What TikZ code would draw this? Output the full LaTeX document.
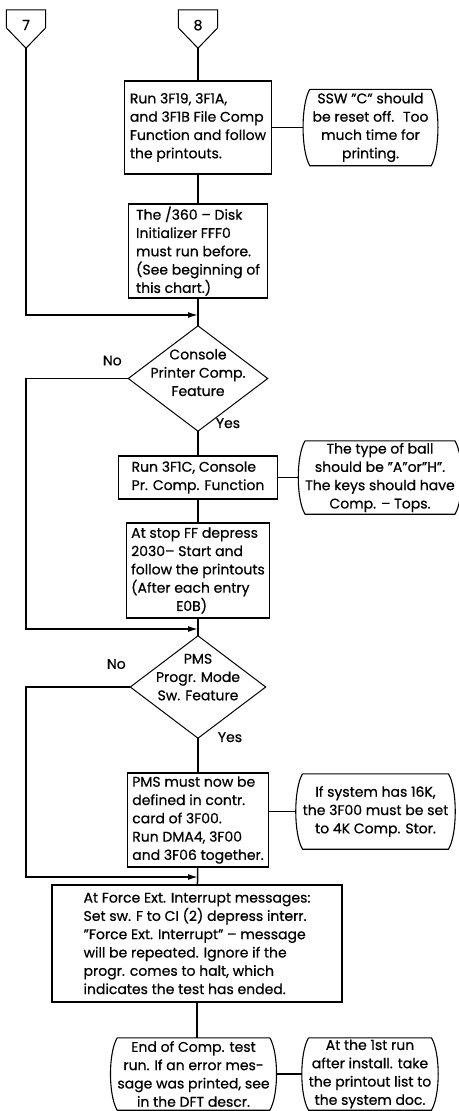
\documentclass[tikz,border=0pt]{standalone}
\usepackage{fontspec}
\setmainfont{Poppins}[FakeBold=0.6]
\usetikzlibrary{arrows.meta}

\begin{document}
\begin{tikzpicture}[x=1pt, y=-1pt, font=\fontsize{14pt}{18.3pt}\selectfont]
    \tikzstyle{process} = [rectangle, draw, line width=1.1pt, align=left, inner xsep=5pt, inner ysep=2pt]
    \tikzstyle{note} = [rectangle, align=center, inner sep=0pt]
    \tikzstyle{decision} = [rectangle, align=center, inner sep=0pt]
    \tikzstyle{offpage} = [rectangle, inner sep=0pt, minimum width=39pt, minimum height=38pt, text depth=8pt]
    \tikzstyle{line} = [line width=1.5pt]
    \tikzstyle{arrow} = [line, -{Latex[length=10pt, width=6pt]}]

    \useasboundingbox (0,0) rectangle (458,1111);

    \node (c7) [offpage] at (26,29) {7};
    \node (c8) [offpage] at (198,29) {8};
    \node (box1) [process, minimum width=142pt, minimum height=93pt] at (198,127.5) {Run 3F19, 3F1A,\\and 3F1B File Comp\\Function and follow\\the printouts.};
    \node (note1) [note, minimum width=121pt, minimum height=76pt] at (370.5,127.5) {SSW "C" should\\be reset off.~ Too\\much time for\\printing.};
    \node (box2) [process, minimum width=139pt, minimum height=94pt] at (198,251) {The /360 -- Disk\\Initializer FFF0\\must run before.\\(See beginning of\\this chart.)};
    \node (dec1) [decision, minimum width=139pt, minimum height=105pt, text depth=12pt] at (198,378.5) {Console\\Printer Comp.\\Feature};
    \node (no1) at ([shift={(-16,-18)}]dec1.west) {No};
    \node (yes1) at ([shift={(30,-8)}]dec1.south) {Yes};
    \node (box3) [process, minimum width=159pt, minimum height=43pt] at (198,477.5) {Run 3F1C, Console\\Pr. Comp. Function};
    \node (note2) [note, minimum width=140pt, minimum height=73pt] at (380,477.5) {The type of ball\\should be "A"or"H".\\The keys should have\\Comp. -- Tops.};
    \node (box4) [process, minimum width=138pt, minimum height=95pt] at (198,570.5) {At stop FF depress\\2030-- Start and\\follow the printouts\\(After each entry\\\hspace*{45pt}E0B)};
    \node (dec2) [decision, minimum width=135pt, minimum height=102pt, text depth=20pt] at (198,687) {PMS\\Progr. Mode\\Sw. Feature};
    \node (no2) at ([shift={(-14,-23)}]dec2.west) {No};
    \node (yes2) at ([shift={(32,-1)}]dec2.south) {Yes};
    \node (box5) [process, minimum width=137pt, minimum height=94pt] at (198,820) {PMS must now be\\defined in contr.\\card of 3F00.\\Run DMA4, 3F00\\and 3F06 together.};
    \node (note3) [note, minimum width=131pt, minimum height=75pt] at (375.5,811.5) {If system has 16K,\\the 3F00 must be set\\to 4K Comp. Stor.};
    \node (box6) [process, minimum width=290pt, minimum height=117pt] at (197,943.5) {At Force Ext. Interrupt messages:\\Set sw. F to CI (2) depress interr.\\"Force Ext. Interrupt" -- message\\will be repeated. Ignore if the\\progr. comes to halt, which\\indicates the test has ended.};
    \node (note4) [note, minimum width=137pt, minimum height=72pt] at (193.5,1074) {End of Comp. test\\run. If an error mes-\\sage was printed, see\\in the DFT descr.};
    \node (note5) [note, minimum width=122pt, minimum height=72pt] at (370,1074) {At the 1st run\\after install. take\\the printout list to\\the system doc.};

    \coordinate (join1) at (198,315);
    \coordinate (join2) at (198,629);
    \coordinate (join3) at (198,877);

    % outlines
    \foreach \n in {c7,c8}
        \draw [line width=1pt] (\n.north west) -- (\n.north east) -- ([yshift=-18pt]\n.north east) -- (\n.south) -- ([yshift=-18pt]\n.north west) -- cycle;
    \foreach \n in {dec1,dec2}
        \draw [line width=1pt] (\n.north) -- (\n.east) -- (\n.south) -- (\n.west) -- cycle;
    \foreach \n in {note1,note2,note3,note4,note5}
        \draw [line width=1.1pt] (\n.north west) -- (\n.north east) .. controls +(9,15) and +(9,-15) .. (\n.south east) -- (\n.south west) .. controls +(-9,-15) and +(-9,15) .. (\n.north west);

    % Arrows
    \draw [line] (c8.south) -- (box1);
    \draw [line] (box1) -- (box2);
    \draw [line] (box2) -- (dec1.north);
    \draw [arrow] (c7.south) |- (join1);
    \draw [line] (dec1.south) -- (box3);
    \draw [line] (box3) -- (box4);
    \draw [line] (box4) -- (dec2.north);
    \draw [arrow] (dec1.west) -- (dec1.west -| c7.south) |- (join2);
    \draw [line] (dec2.south) -- (box5);
    \draw [line] (box5) -- (box6);
    \draw [arrow] (dec2.west) -- (dec2.west -| c7.south) |- (join3);
    \draw [line] (box6.south) -- (box6.south |- note4.north);
    \draw [line, shorten >=7pt] (box1) -- (note1);
    \draw [line, shorten >=7pt] (box3) -- (note2);
    \draw [line, shorten >=7pt] (box5.east |- note3.west) -- (note3.west);
    \draw [line, shorten <=7pt, shorten >=7pt] (note4) -- (note5);
\end{tikzpicture}
\end{document}
